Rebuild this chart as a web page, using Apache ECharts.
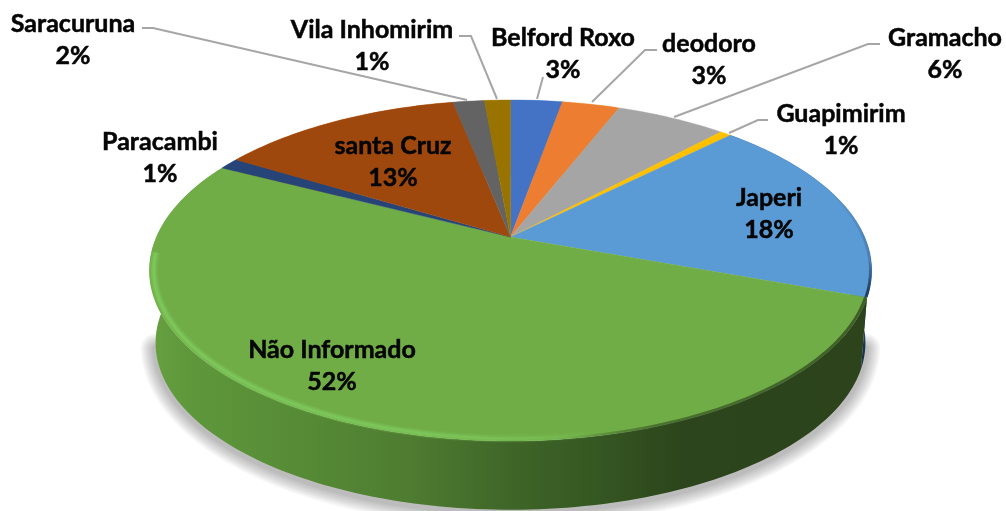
<!DOCTYPE html>
<html>
<head>
<meta charset="utf-8">
<style>html,body{margin:0;padding:0;background:#fff}#c{width:1006px;height:511px}</style>
<script src="https://cdn.jsdelivr.net/npm/echarts@6/dist/echarts.min.js"></script>
</head>
<body>
<div id="c"></div>
<script>
// Data
const categories = ['Belford Roxo','deodoro','Gramacho','Guapimirim','Japeri','Não Informado','Paracambi','santa Cruz','Saracuruna','Vila Inhomirim'];
const shares = [2.8,3.1,6.0,0.6,18.1,52.0,1.1,13.2,1.7,1.4];
const percentLabels = ['3%','3%','6%','1%','18%','52%','1%','13%','2%','1%'];

// Styling and layout (not data)
const colors = ['#4472C4','#ED7D31','#A5A5A5','#FFC000','#5B9BD5','#70AD47','#264478','#9E480E','#636363','#997300'];
const labelAt = [[563,38],[709,44],[945,38],[841,114],[769,198],[332,350],[160,142],[393,146],[73,24],[372,30]];
const leaders = [
  [[543,77],[537,99]],
  [[657,50],[645,50],[592,102]],
  [[880,44],[868,44],[674,117]],
  [[768,120],[758,120],[729,133]],
  null,null,null,null,
  [[142,28],[153,28],[467,100]],
  [[459,36],[471,36],[497,99]]
];
const FONT = 'bold 25px Lato, Carlito, sans-serif';
const LINE = 32;
const topFace = {cx:510.5, cy:237, a:354, b:163.9, k:-0.1965};
const botFace = {cx:510.5, cy:310, a:348, b:160.5, k:-0.1965};
const silhouetteFrom = 28.5, silhouetteTo = 71.5;

const total = shares.reduce((s,v)=>s+v,0);
const starts = [];
shares.reduce((s,v,i)=>{starts[i]=s;return s+v;},0);
function project(p, f){
  const th = p/total*2*Math.PI, x=Math.sin(th), y=-Math.cos(th), w=1+f.k*y;
  return [f.cx+f.a*x/w, f.cy+f.b*y/w];
}
function arc(p0,p1,f,inset){
  const n=Math.max(4,Math.ceil((p1-p0)*3)), pts=[];
  for(let i=0;i<=n;i++){
    const q=project(p0+(p1-p0)*i/n,f);
    if(inset){const dx=q[0]-f.cx,dy=q[1]-f.cy;const s=1-inset;q[0]=f.cx+dx*s;q[1]=f.cy+dy*s;}
    pts.push(q);
  }
  return pts;
}
const G = echarts.graphic.LinearGradient;
const sideGreen = new G(150,0,870,0,[
  {offset:0,color:'#66A040'},{offset:.06,color:'#5E973B'},{offset:.2,color:'#578C36'},
  {offset:.36,color:'#4E7C31'},{offset:.5,color:'#3F6628'},{offset:.62,color:'#355722'},
  {offset:.74,color:'#2C451C'},{offset:1,color:'#2C431C'}],true);
const rimGreen = new G(150,0,600,0,[
  {offset:0,color:'rgba(128,205,95,1)'},{offset:.6,color:'rgba(128,205,95,.9)'},
  {offset:.85,color:'rgba(128,205,95,.45)'},{offset:1,color:'rgba(128,205,95,0)'}],true);
const shadeGreen = new G(560,0,870,0,[
  {offset:0,color:'rgba(44,67,28,0)'},{offset:.3,color:'rgba(44,67,28,.55)'},{offset:1,color:'rgba(44,67,28,.75)'}],true);
const rimBlue = new G(0,190,0,290,[
  {offset:0,color:'rgba(30,60,95,0)'},{offset:.7,color:'rgba(30,60,95,.3)'},{offset:1,color:'rgba(30,60,95,.95)'}],true);

function softShadow(){
  const path=arc(silhouetteFrom,silhouetteTo,botFace).map(q=>[q[0],q[1]+2]);
  const out=[];
  for(let w=30;w>=4;w-=3){
    out.push({type:'polyline',shape:{points:path},style:{fill:'none',stroke:'#000',lineWidth:w,opacity:.03,lineJoin:'round',lineCap:'round'}});
  }
  return out;
}
function sideItem(params){
  const i=params.dataIndex, p0=starts[i], p1=p0+shares[i];
  const pts=arc(p0,p1,topFace).concat(arc(p0,p1,botFace).reverse());
  const green=i===5;
  const poly={type:'polygon',shape:{points:pts},style:{
    fill: green?sideGreen:(i===4?'#24476B':echarts.color.lift(colors[i],-0.5))
  }};
  return {type:'group',children:green?softShadow().concat([poly]):[poly]};
}
function topItem(params){
  const i=params.dataIndex, p0=starts[i], p1=p0+shares[i];
  const pts=[[topFace.cx,topFace.cy]].concat(arc(p0,p1,topFace));
  const children=[{type:'polygon',shape:{points:pts},style:{fill:colors[i],stroke:colors[i],lineWidth:.4}}];
  if(i===5){
    children.push({type:'polyline',shape:{points:arc(p0,p1,topFace,.004)},style:{fill:'none',stroke:shadeGreen,lineWidth:3}});
    const band=arc(p0+6,73.5,topFace,.012);
    [[8,.18],[6,.25],[4,.35],[2,.5]].forEach(b=>{
      children.push({type:'polyline',shape:{points:band},style:{fill:'none',stroke:rimGreen,lineWidth:b[0],opacity:b[1]}});
    });
  }
  if(i===4){
    children.push({type:'polyline',shape:{points:arc(p0+3,p1,topFace,.003)},style:{fill:'none',stroke:rimBlue,lineWidth:3}});
  }
  return {type:'group',children};
}
function labelItem(params){
  const i=params.dataIndex, at=labelAt[i], children=[];
  if(leaders[i]) children.push({type:'polyline',shape:{points:leaders[i]},style:{fill:'none',stroke:'#A6A6A6',lineWidth:2}});
  const txt={align:'center',verticalAlign:'middle',font:FONT,fill:'#050505',stroke:'#050505',lineWidth:.5};
  children.push({type:'text',style:Object.assign({text:categories[i],x:at[0],y:at[1]},txt)});
  children.push({type:'text',style:Object.assign({text:percentLabels[i],x:at[0],y:at[1]+LINE},txt)});
  return {type:'group',children};
}
const rows = shares.map(v=>[v]);
const chart = echarts.init(document.getElementById('c'),null,{renderer:'canvas'});
chart.setOption({
  animation:false,
  backgroundColor:'#fff',
  series:[
    {type:'custom',coordinateSystem:'none',silent:true,data:rows,renderItem:sideItem,z:1},
    {type:'custom',coordinateSystem:'none',silent:true,data:rows,renderItem:topItem,z:2},
    {type:'custom',coordinateSystem:'none',silent:true,data:rows,renderItem:labelItem,z:3}
  ]
});
</script>
</body>
</html>
